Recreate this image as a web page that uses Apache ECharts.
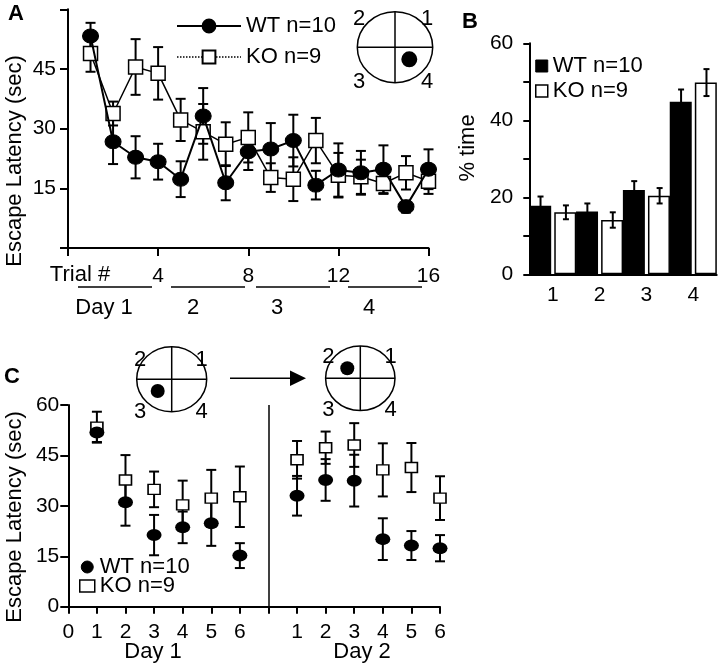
<!DOCTYPE html>
<html>
<head>
<meta charset="utf-8">
<script src="https://cdn.jsdelivr.net/npm/echarts@6/dist/echarts.min.js"></script>
<style>
  html, body { margin: 0; padding: 0; background: #fff; }
  #main { width: 720px; height: 668px; }
</style>
</head>
<body>
<div id="main"></div>
<script>
// ---- Panel A: acquisition, 16 trials ----
var trialsA = [1, 2, 3, 4, 5, 6, 7, 8, 9, 10, 11, 12, 13, 14, 15, 16];
var wtA = [53.3, 26.7, 22.8, 21.7, 17.3, 33.2, 16.4, 24.2, 24.9, 27.0, 15.8, 19.6, 18.9, 19.8, 10.4, 19.8];
var wtErrA = [3.3, 5.6, 5.3, 4.5, 4.5, 7.0, 4.4, 4.6, 6.5, 6.5, 3.6, 6.7, 5.5, 6.0, 1.5, 5.0];
var koA = [48.9, 33.8, 45.5, 43.9, 32.2, 29.2, 26.1, 27.8, 17.7, 17.3, 27.0, 18.3, 17.9, 16.2, 18.9, 16.8];
var koErrA = [4.6, 3.0, 7.0, 6.6, 5.3, 7.0, 5.5, 6.3, 3.6, 5.5, 5.7, 5.6, 4.3, 2.6, 4.2, 3.2];

// ---- Panel B: probe trial, % time per quadrant ----
var quadrants = ['1', '2', '3', '4'];
var wtB = [17.8, 16.3, 21.9, 44.8];
var wtErrB = [2.4, 2.1, 2.3, 3.2];
var koB = [16.1, 14.1, 20.4, 49.8];
var koErrB = [1.8, 2.0, 2.0, 3.5];

// ---- Panel C: reversal, day 1 (x 1-6) and day 2 (x 8-13) ----
var trialsC = [1, 2, 3, 4, 5, 6, 8, 9, 10, 11, 12, 13];
var wtC = [51.8, 31.1, 21.3, 23.6, 24.8, 15.2, 33.0, 37.7, 37.5, 20.1, 18.2, 17.4];
var wtErrC = [2.8, 7.0, 6.0, 4.7, 6.7, 3.7, 5.9, 6.2, 7.7, 6.2, 4.3, 3.9];
var koC = [53.4, 37.7, 34.9, 30.3, 32.3, 32.7, 43.7, 47.3, 48.1, 40.7, 41.4, 32.3];
var koErrC = [4.6, 7.4, 5.3, 7.2, 8.4, 9.0, 5.6, 4.8, 6.5, 7.9, 7.3, 6.5];
var tickLabelsC = ['0', '1', '2', '3', '4', '5', '6', '', '1', '2', '3', '4', '5', '6'];

var FONT = "'Liberation Sans', Arial, Helvetica, sans-serif";
var BLACK = '#000';

function pairs(xs, ys) {
  return xs.map(function (x, i) { return [x, ys[i]]; });
}

// vertical error bars with caps, drawn through the axis scales
function errorBars(grid, xs, ys, errs, capW, offsetPx, z) {
  return {
    type: 'custom',
    xAxisIndex: grid,
    yAxisIndex: grid,
    z: z,
    silent: true,
    data: xs.map(function (x, i) { return [x, ys[i] - errs[i], ys[i] + errs[i]]; }),
    renderItem: function (params, api) {
      var lo = api.coord([api.value(0), api.value(1)]);
      var hi = api.coord([api.value(0), api.value(2)]);
      var x = lo[0] + offsetPx;
      var st = { stroke: BLACK, lineWidth: 2 };
      return {
        type: 'group',
        children: [
          { type: 'line', shape: { x1: x, y1: lo[1], x2: x, y2: hi[1] }, style: st },
          { type: 'line', shape: { x1: x - capW / 2, y1: lo[1], x2: x + capW / 2, y2: lo[1] }, style: st },
          { type: 'line', shape: { x1: x - capW / 2, y1: hi[1], x2: x + capW / 2, y2: hi[1] }, style: st }
        ]
      };
    }
  };
}

var axisLine = { show: true, lineStyle: { color: BLACK, width: 2 } };
var tickStyle = { color: BLACK, width: 2 };
var labelStyle = { color: BLACK, fontSize: 21, fontFamily: FONT };

function txt(text, x, y, size, extra) {
  var s = { text: text, x: 0, y: 0, fill: BLACK, font: (extra && extra.bold ? 'bold ' : '') + size + 'px ' + FONT, textAlign: 'center', textVerticalAlign: 'middle' };
  var el = { type: 'text', x: x, y: y, style: s, silent: true };
  if (extra && extra.rotate) el.rotation = Math.PI / 2;
  return el;
}
function seg(x1, y1, x2, y2, w) {
  return { type: 'line', silent: true, shape: { x1: x1, y1: y1, x2: x2, y2: y2 }, style: { stroke: BLACK, lineWidth: w || 1.5 } };
}
function maze(cx, cy, rx, ry, dx, dy, dr, lbl) {
  return [
    { type: 'ellipse', silent: true, shape: { cx: cx, cy: cy, rx: rx, ry: ry }, style: { fill: '#fff', stroke: BLACK, lineWidth: 1.5 } },
    seg(cx - rx, cy, cx + rx, cy),
    seg(cx, cy - ry, cx, cy + ry),
    { type: 'circle', silent: true, shape: { cx: dx, cy: dy, r: dr }, style: { fill: BLACK } },
    txt('2', lbl[0], lbl[1], 22), txt('1', lbl[2], lbl[1], 22),
    txt('3', lbl[0], lbl[3], 22), txt('4', lbl[2], lbl[3], 22)
  ];
}

var graphics = [
  txt('A', 16, 14, 22, { bold: true }),
  txt('B', 470, 22, 22, { bold: true }),
  txt('C', 12, 377, 22, { bold: true }),
  txt('Escape Latency (sec)', 15, 161, 22, { rotate: true }),
  txt('% time', 468, 148, 22, { rotate: true }),
  txt('Escape Latency (sec)', 15, 517, 22, { rotate: true }),
  txt('Trial #', 80, 275, 22),
  seg(78, 287, 152, 287), seg(171, 287, 245, 287), seg(256, 287, 330, 287), seg(348, 287, 422, 287),
  txt('Day 1', 104, 308, 22), txt('2', 193, 308, 22), txt('3', 277, 308, 22), txt('4', 369, 308, 22),
  txt('Day 1', 153, 652, 22), txt('Day 2', 362, 652, 22),
  seg(230, 378.3, 292, 378.3, 1.5),
  { type: 'polygon', silent: true, shape: { points: [[290, 370.5], [306, 378.3], [290, 386]] }, style: { fill: BLACK } }
].concat(
  maze(395, 47.2, 37.7, 35.5, 409.3, 59.3, 8, [359, 19, 427, 82]),
  maze(171.7, 379.2, 35, 32.5, 157.7, 391, 7, [140, 360, 201.7, 411.7]),
  maze(360.3, 378.3, 34.7, 32.3, 347.3, 368.3, 7, [328.3, 356.7, 390.7, 410])
);

var option = {
  animation: false,
  backgroundColor: '#fff',
  textStyle: { fontFamily: FONT, color: BLACK },
  grid: [
    { left: 68, top: 9.3, width: 360.5, height: 238.7 },
    { left: 529.3, top: 43.3, width: 187.4, height: 231 },
    { left: 68.3, top: 405, width: 371.7, height: 201.7 }
  ],
  xAxis: [
    {
      gridIndex: 0, type: 'value', min: 0, max: 16, interval: 4,
      axisLine: axisLine, axisTick: { show: true, length: 8, lineStyle: tickStyle },
      splitLine: { show: false },
      axisLabel: Object.assign({ margin: 18, formatter: function (v) { return v === 0 ? '' : v; } }, labelStyle)
    },
    {
      gridIndex: 1, type: 'category', data: quadrants,
      axisLine: axisLine, axisTick: { show: false },
      axisLabel: Object.assign({ margin: 10 }, labelStyle)
    },
    {
      gridIndex: 2, type: 'value', min: 0, max: 13, interval: 1,
      axisLine: axisLine, axisTick: { show: true, length: 7, lineStyle: tickStyle },
      splitLine: { show: false },
      axisLabel: Object.assign({ margin: 15, formatter: function (v) { return tickLabelsC[v]; } }, labelStyle)
    }
  ],
  yAxis: [
    {
      gridIndex: 0, type: 'value', min: 0, max: 60, interval: 15,
      axisLine: axisLine, axisTick: { show: true, length: 8, lineStyle: tickStyle },
      splitLine: { show: false },
      axisLabel: Object.assign({ margin: 12, formatter: function (v) { return (v === 0 || v === 60) ? '' : v; } }, labelStyle)
    },
    {
      gridIndex: 1, type: 'value', min: 0, max: 60, interval: 10,
      axisLine: axisLine, axisTick: { show: true, length: 6, lineStyle: tickStyle },
      splitLine: { show: false },
      axisLabel: Object.assign({ margin: 16, formatter: function (v) { return v % 20 === 0 ? v : ''; } }, labelStyle)
    },
    {
      gridIndex: 2, type: 'value', min: 0, max: 60, interval: 15,
      axisLine: axisLine, axisTick: { show: true, length: 8, lineStyle: tickStyle },
      splitLine: { show: false },
      axisLabel: Object.assign({ margin: 9 }, labelStyle)
    }
  ],
  legend: [
    {
      left: 176, top: 15, padding: 0, orient: 'vertical', itemWidth: 64, itemHeight: 16, itemGap: 9,
      selectedMode: false,
      textStyle: { fontSize: 22, fontFamily: FONT, color: BLACK },
      data: [
        'WT n=10',
        { name: 'KO n=9', lineStyle: { type: 'dotted', width: 1.5 } }
      ]
    },
    {
      left: 535, top: 55, padding: 0, orient: 'vertical', itemWidth: 12, itemHeight: 12, itemGap: 3,
      selectedMode: false,
      textStyle: { fontSize: 22, fontFamily: FONT, color: BLACK },
      data: [
        { name: 'WT n=10', icon: 'rect', itemStyle: { color: BLACK, borderColor: BLACK, borderWidth: 1 } },
        { name: 'KO n=9', icon: 'rect', itemStyle: { color: '#fff', borderColor: BLACK, borderWidth: 1.5 } }
      ]
    },
    {
      left: 79, top: 556, padding: 0, orient: 'vertical', itemWidth: 15, itemHeight: 12, itemGap: -3,
      selectedMode: false,
      textStyle: { fontSize: 22, fontFamily: FONT, color: BLACK, lineHeight: 18 },
      data: [
        { name: 'WT n=10', icon: 'circle', itemStyle: { color: BLACK, borderColor: BLACK, borderWidth: 1 } },
        { name: 'KO n=9', icon: 'rect', itemStyle: { color: '#fff', borderColor: BLACK, borderWidth: 1.5 } }
      ]
    }
  ],
  graphic: graphics,
  series: [
    // Panel A
    errorBars(0, trialsA, wtA, wtErrA, 10, 0, 1),
    errorBars(0, trialsA, koA, koErrA, 10, 0, 1),
    {
      name: 'WT n=10', type: 'line', xAxisIndex: 0, yAxisIndex: 0, z: 4,
      data: pairs(trialsA, wtA),
      symbol: 'circle', symbolSize: [16, 14],
      itemStyle: { color: BLACK, borderColor: BLACK, borderWidth: 1 },
      lineStyle: { color: BLACK, width: 2 }
    },
    {
      name: 'KO n=9', type: 'line', xAxisIndex: 0, yAxisIndex: 0, z: 3,
      data: pairs(trialsA, koA),
      symbol: 'rect', symbolSize: 14,
      itemStyle: { color: '#fff', borderColor: BLACK, borderWidth: 1.5 },
      lineStyle: { color: BLACK, width: 1.5 }
    },
    // Panel B
    {
      name: 'WT n=10', type: 'bar', xAxisIndex: 1, yAxisIndex: 1,
      data: wtB, barWidth: 22, barGap: '14%',
      itemStyle: { color: BLACK }
    },
    {
      name: 'KO n=9', type: 'bar', xAxisIndex: 1, yAxisIndex: 1,
      data: koB, barWidth: 22, barGap: '14%',
      itemStyle: { color: '#fff', borderColor: BLACK, borderWidth: 1.5 }
    },
    errorBars(1, [0, 1, 2, 3], wtB, wtErrB, 6, -12.2, 5),
    errorBars(1, [0, 1, 2, 3], koB, koErrB, 6, 13.2, 5),
    // Panel C
    errorBars(2, trialsC, wtC, wtErrC, 10, 0, 1),
    errorBars(2, trialsC, koC, koErrC, 10, 0, 1),
    {
      name: 'WT n=10', type: 'scatter', xAxisIndex: 2, yAxisIndex: 2, z: 4,
      data: pairs(trialsC, wtC),
      symbol: 'circle', symbolSize: [15, 12],
      itemStyle: { color: BLACK, opacity: 1 },
      markLine: {
        silent: true, symbol: 'none', label: { show: false },
        lineStyle: { color: BLACK, width: 1.5, type: 'solid' },
        data: [{ xAxis: 7 }]
      }
    },
    {
      name: 'KO n=9', type: 'scatter', xAxisIndex: 2, yAxisIndex: 2, z: 3,
      data: pairs(trialsC, koC),
      symbol: 'rect', symbolSize: [12, 10],
      itemStyle: { color: '#fff', borderColor: BLACK, borderWidth: 1.5, opacity: 1 }
    }
  ]
};

var myChart = echarts.init(document.getElementById('main'));
myChart.setOption(option);
</script>
</body>
</html>
